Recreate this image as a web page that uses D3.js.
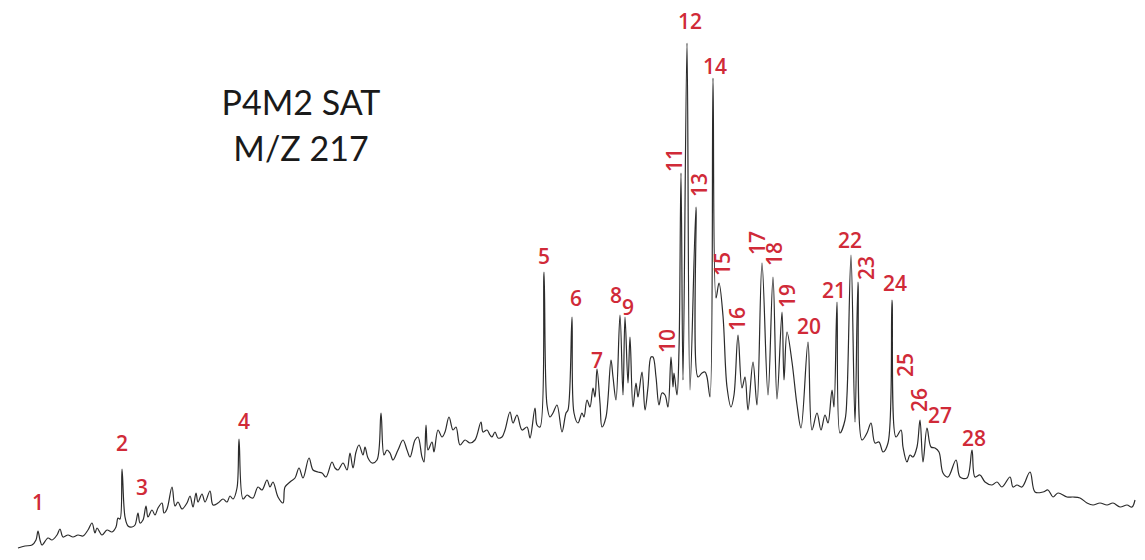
<!DOCTYPE html>
<html><head><meta charset="utf-8">
<script src="https://cdn.jsdelivr.net/npm/d3@7"></script>
<style>html,body{margin:0;padding:0;background:#fff;}svg{display:block;}</style>
</head><body>
<svg id="c" width="1145" height="560"></svg>
<script>
// Retention (scan index) and detector response
const retention = [18,25,32,36,38,40,42,48,52,57,60,63,68,73,78,83,88,92,95,97,102,107,112,116,118,120,122,125,128,132,135,138,140,143,146,148,152,155,158,162,164,167,172,175,178,182,187,190,193,196,198,202,205,210,213,218,223,227,230,233,237,239,243,247,
250,253,258,262,267,270,273,278,283,285,290,295,299,303,309,313,318,322,326,332,335,338,343,347,350,353,356,359,363,365,368,372,377,381,384,387,390,393,398,403,407,410,415,418,422,424,426,428,432,434,438,442,445,449,453,456,460,465,470,475,481,483,487,490,
492,495,498,502,505,510,513,517,522,527,530,535,537,540,544,547,550,553,557,562,566,568,572,574,578,582,584,587,590,593,595,597,600,602,606,611,613,616,620,623,625,628,630,633,636,638,642,645,648,651,653,656,659,662,665,668,671,673,674,677,679,681,683,687,690,696,698,702,705,707,710,713,716,719,723,727,731,734,738,742,745,748,753,757,762,768,773,777,782,784,787,792,797,801,808,812,817,821,825,828,832,834,837,840,845,847,851,855,858,862,867,871,875,879,883,888,892,896,901,903,907,910,913,917,920,923,927,931,935,939,943,948,956,960,967,972,975,980,985,992,997,1002,1010,1013,1017,1022,1030,1035,1043,1048,1053,1058,1067,1073,1080,1087,1093,1100,1107,1113,1120,1127,1132,1135];
const response = [12,14,15,20,29,20,15,22,20,25,31,23,25,23,25,24,30,37,27,32,25,30,28,33,42,41,91,43,34,33,35,47,37,40,54,43,50,45,52,57,47,51,73,54,58,51,57,64,53,67,58,66,58,69,55,57,61,58,64,61,72,121,61,65,
63,62,73,70,80,73,78,63,57,73,78,82,92,82,102,90,88,87,83,98,92,90,97,90,107,92,108,115,105,113,102,97,100,147,105,110,107,100,110,120,110,103,120,123,103,98,135,110,118,108,130,123,128,143,130,133,115,120,117,120,138,128,130,125,
123,128,122,123,130,148,137,145,130,133,122,152,135,133,288,155,143,147,155,128,147,150,243,147,137,147,143,160,153,172,163,191,157,133,143,200,183,160,245,165,243,177,223,153,177,163,188,150,173,203,203,183,155,167,165,153,203,173,187,165,210,387,180,517,170,353,183,187,188,183,163,482,262,277,244,173,153,165,225,172,183,150,198,155,297,165,283,161,248,180,228,198,155,132,218,130,147,130,145,137,170,153,258,127,140,165,305,138,278,120,127,137,117,118,108,117,260,123,130,113,98,105,103,113,140,98,132,113,112,108,87,83,100,83,82,110,83,85,78,75,78,73,83,73,75,73,88,68,68,70,63,67,63,63,62,57,55,57,55,57,53,55,53,60];

// Peak annotations: number, anchor retention, anchor response, vertical text
const peakNumber   = [1,2,3,4,5,6,7,8,9,10,11,12,13,14,15,16,17,18,19,20,21,22,23,24,25,26,27,28];
const peakLabelRt  = [38,122,142,244,544,576,597,616,628,667,674,690,699,715,722,737,757,774,787,809,834,850,866,895,905,919,940,974];
const peakLabelResp= [58,117,73,139,304,262,200,265,253,219,400,539,375,494,296,241,317,306,264,234,270,320,292,277,195,160,145,122];
const peakVertical = [0,0,0,0,0,0,0,0,0,1,1,0,1,0,1,1,1,1,1,0,0,0,1,0,1,1,0,0];

const titleLines = ["P4M2 SAT", "M/Z 217"];

const W = 1145, H = 560;
const svg = d3.select("#c");
const x = d3.scaleLinear().domain([0, 1145]).range([0, W]);
const y = d3.scaleLinear().domain([0, 560]).range([H, 0]);

const pts = retention.map((r, i) => [r, response[i]]);
svg.append("path")
  .datum(pts)
  .attr("fill", "none")
  .attr("stroke", "#2b2b2b")
  .attr("stroke-width", 1.2)
  .attr("stroke-linejoin", "round")
  .attr("d", d3.line().curve(d3.curveCatmullRom.alpha(0.5)).x(d => x(d[0])).y(d => y(d[1])));

const labels = peakNumber.map((n, i) => ({n, rt: peakLabelRt[i], resp: peakLabelResp[i], v: peakVertical[i]}));
svg.selectAll("text.pk").data(labels).join("text")
  .attr("class", "pk")
  .attr("transform", d => `translate(${x(d.rt)},${y(d.resp)})` + (d.v ? " rotate(-90)" : ""))
  .attr("text-anchor", "middle")
  .attr("dominant-baseline", "central")
  .attr("font-family", "'Open Sans', sans-serif")
  .attr("font-size", 21)
  .attr("font-weight", 600)
  .attr("fill", "#d02a38")
  .text(d => d.n);

svg.selectAll("text.title").data(titleLines).join("text")
  .attr("class", "title")
  .attr("x", 301)
  .attr("y", (d, i) => 115 + i * 46)
  .attr("text-anchor", "middle")
  .attr("font-family", "Lato, 'Open Sans', sans-serif")
  .attr("font-size", 34)
  .attr("fill", "#1a1a1a")
  .text(d => d);
</script>
</body></html>
